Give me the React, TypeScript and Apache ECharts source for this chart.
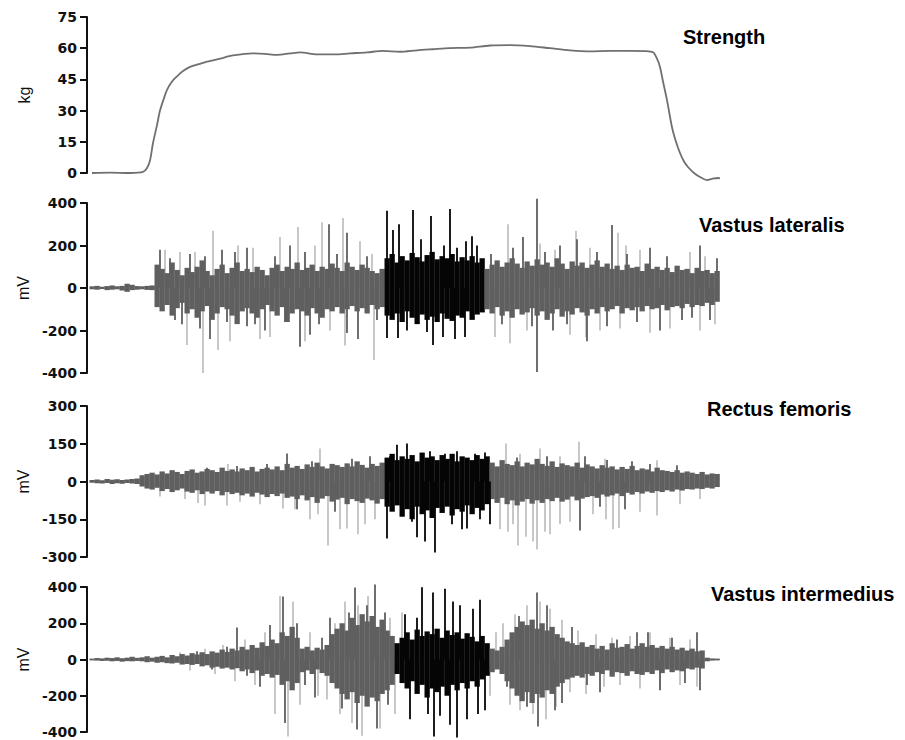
import React, { useEffect, useRef } from "react";
import * as echarts from "echarts";

// ---- time base (arbitrary units, 0..T_MAX) ----
const T_MAX = 633;
const SAMPLE_START = 5;
const SAMPLE_STEP = 5;

// ---- Strength (kg) ----
const strengthTicks = [0, 15, 30, 45, 60, 75];
const strengthT = [5,23,43,56,60,63,66,70,73,77,80,85,90,96,103,113,120,133,146,166,178,190,203,213,230,248,263,280,296,313,330,346,363,383,403,423,443,463,483,503,523,543,558,566,570,573,576,580,585,589,593,597,601,607,613,620,625,631,633];
const strengthKg = [0,0.2,0,0.5,2.4,6,14.4,23,30,36,40,44,46.5,49,51,52.5,53.5,55,56.5,57.5,57.3,56.8,57.5,58,57,57,57.5,58,58.7,58.3,59,59.5,60,60.3,61.3,61.5,61,60,59,58.5,58.7,58.7,58.6,58,55,51,44,35,22,15,9.6,5.5,2.9,0,-1.9,-3.4,-2.8,-2.4,-2.6];

// ---- Vastus lateralis (mV) ----
const vlTicks = [-400, -200, 0, 200, 400];
const vlWindow = [298, 397];
const vlHi = [
  8, 10, 6, 9, 12, 8, 10, 20, 15, 9,
  8, 10, 12, 110, 90, 70, 120, 85, 60, 95,
  75, 100, 130, 80, 60, 90, 110, 70, 95, 120,
  80, 90, 75, 100, 85, 60, 95, 110, 80, 100,
  90, 120, 85, 95, 110, 80, 100, 90, 115, 95,
  80, 120, 100, 85, 110, 95, 80, 70, 90, 140,
  160, 120, 150, 130, 165, 145, 125, 155, 170, 135,
  150, 140, 160, 125, 145, 130, 150, 120, 140, 90,
  110, 130, 100, 120, 140, 115, 95, 125, 105, 135,
  110, 120, 100, 140, 115, 90, 125, 105, 120, 95,
  110, 130, 100, 115, 90, 105, 85, 110, 95, 100,
  80, 115, 90, 100, 85, 95, 75, 105, 85, 90,
  70, 95, 80, 85, 70, 80,
];
const vlLo = [
  -6, -8, -5, -10, -8, -6, -12, -18, -10, -8,
  -6, -9, -10, -90, -110, -80, -130, -95, -70, -120,
  -100, -140, -110, -85, -150, -120, -90, -100, -130, -170,
  -110, -95, -120, -140, -100, -80, -110, -130, -90, -160,
  -120, -100, -110, -130, -95, -120, -140, -100, -110, -90,
  -120, -100, -85, -110, -95, -120, -80, -100, -90, -130,
  -150, -120, -160, -110, -140, -170, -125, -150, -135, -160,
  -120, -145, -155, -130, -140, -110, -150, -125, -115, -100,
  -120, -90, -130, -110, -140, -100, -125, -115, -95, -130,
  -110, -150, -120, -100, -135, -110, -125, -95, -115, -130,
  -100, -120, -90, -110, -100, -85, -120, -95, -105, -90,
  -110, -85, -100, -95, -80, -105, -90, -85, -95, -75,
  -90, -80, -85, -70, -80, -65,
];
const vlLightSpikes = [
  [78,180],[93,170],[100,-268],[108,170],[116,-400],[126,270],[131,-292],[143,-250],[151,200],[166,190],
  [173,-240],[183,-230],[193,240],[211,287],[218,-250],[228,200],[235,310],[243,-200],[256,330],[258,-270],
  [273,220],[285,160],[287,-339],[408,-230],[421,300],[423,-260],[440,-200],[453,210],[468,180],[483,-220],
  [489,270],[499,-230],[503,190],[513,-200],[531,260],[533,-190],[539,200],[553,180],[563,-210],[583,-190],
  [603,170],[613,-200],[618,150],[628,-170],
];
const vlDarkSpikes = [
  [73,180],[83,140],[88,-150],[95,-170],[103,160],[113,-190],[118,150],[123,-240],[135,180],[140,-160],
  [148,170],[160,190],[160,-180],[168,-170],[178,-200],[188,150],[198,-160],[203,200],[213,-277],[218,170],
  [223,-220],[232,-170],[242,300],[250,160],[260,260],[260,-212],[271,-240],[280,150],[290,-150],
  [300,363],[300,-235],[306,273],[311,-235],[312,300],[320,-200],[326,367],[334,230],[340,-207],[344,339],
  [346,-268],[356,-230],[357,200],[363,372],[368,-240],[370,190],[378,-230],[379,220],[385,243],[390,200],
  [404,160],[415,-170],[426,190],[436,240],[445,-180],[450,420],[450,-395],[458,170],[466,-200],[473,200],
  [480,-170],[490,230],[500,-250],[510,170],[520,-180],[525,296],[540,160],[550,-160],[563,190],[573,-200],
  [580,150],[595,-150],[605,-140],[613,200],[623,-150],[630,140],
];

// ---- Rectus femoris (mV) ----
const rfTicks = [-300, -150, 0, 150, 300];
const rfWindow = [298, 403];
const rfHi = [
  6, 8, 5, 10, 7, 9, 6, 8, 10, 12,
  25, 30, 35, 28, 40, 32, 45, 38, 30, 42,
  48, 35, 40, 50, 45, 38, 55, 42, 48, 40,
  52, 45, 58, 40, 50, 55, 48, 60, 45, 70,
  55, 62, 50, 68, 58, 75, 60, 52, 70, 65,
  58, 72, 60, 80, 66, 55, 70, 62, 75, 95,
  110, 85, 100, 90, 105, 80, 115, 95, 100, 85,
  105, 90, 110, 80, 100, 95, 85, 105, 90, 100,
  75, 60, 85, 70, 65, 80, 60, 75, 68, 90,
  70, 62, 80, 58, 72, 65, 60, 75, 55, 68,
  60, 52, 65, 55, 60, 48, 58, 50, 62, 45,
  52, 48, 40, 55, 45, 42, 38, 45, 35, 40,
  35, 30, 38, 28, 32, 30,
];
const rfLo = [
  -5, -7, -8, -6, -10, -7, -9, -6, -8, -10,
  -20, -28, -32, -25, -38, -30, -42, -35, -28, -40,
  -45, -35, -50, -40, -48, -38, -55, -42, -50, -45,
  -55, -48, -60, -45, -52, -62, -50, -58, -48, -65,
  -60, -70, -55, -75, -62, -85, -68, -58, -80, -72,
  -65, -90, -70, -78, -85, -68, -75, -88, -70, -100,
  -120, -95, -140, -110, -150, -100, -130, -115, -145, -105,
  -125, -100, -135, -110, -120, -95, -130, -105, -115, -90,
  -70, -85, -65, -90, -75, -95, -80, -70, -88, -75,
  -85, -70, -78, -65, -80, -72, -60, -75, -68, -62,
  -58, -65, -52, -60, -55, -48, -58, -45, -52, -42,
  -48, -40, -45, -38, -42, -35, -40, -32, -36, -30,
  -32, -28, -30, -25, -28, -22,
];
const rfLightSpikes = [
  [73,-60],[98,-70],[111,-85],[118,-95],[140,-95],[141,70],[153,-80],[173,-90],[196,-107],[208,-110],
  [223,-150],[231,-130],[233,131],[241,-254],[253,-190],[260,-187],[271,-210],[278,-170],[288,-150],
  [413,-190],[419,151],[421,-200],[426,-170],[431,-254],[433,110],[439,-220],[446,-238],[450,-270],[453,131],
  [458,-200],[463,-210],[473,-170],[473,100],[483,-160],[492,158],[506,-130],[518,90],[519,-150],[526,-190],
  [532,-185],[553,-120],[570,-135],[570,84],[593,-90],[613,-70],
];
const rfDarkSpikes = [
  [120,55],[150,62],[180,70],[200,111],[210,-110],[225,80],[248,-120],[265,90],[283,100],
  [300,-226],[303,100],[310,146],[320,151],[325,-160],[330,-222],[338,-238],[343,120],[348,-282],[358,110],
  [365,-170],[370,120],[375,-190],[380,-187],[388,110],[393,-150],[398,115],[403,-170],
  [430,95],[460,100],[493,-195],[498,100],[513,-100],[520,85],[538,-110],[545,80],[563,70],[590,65],
];

// ---- Vastus intermedius (mV) ----
const viTicks = [-400, -200, 0, 200, 400];
const viWindow = [308, 402];
const viHi = [
  5, 8, 6, 10, 8, 12, 7, 10, 15, 9,
  12, 18, 10, 15, 20, 12, 25, 18, 30, 22,
  35, 28, 40, 30, 45, 38, 55, 42, 60, 50,
  70, 55, 80, 65, 95, 75, 110, 90, 150, 130,
  180, 120, 60, 70, 50, 65, 55, 80, 140, 170,
  200, 160, 230, 190, 250, 210, 240, 180, 220, 160,
  130, 90, 120, 150, 110, 165, 130, 155, 140, 170,
  120, 160, 135, 150, 115, 145, 125, 100, 130, 90,
  60, 50, 70, 110, 150, 180, 210, 190, 220, 170,
  200, 160, 180, 140, 120, 100, 90, 80, 95, 70,
  80, 60, 75, 55, 90, 65, 70, 85, 60, 75,
  90, 70, 80, 65, 75, 60, 70, 55, 65, 50,
  60, 45, 50, 10, 6, 5,
];
const viLo = [
  -5, -6, -8, -7, -10, -8, -12, -9, -10, -8,
  -10, -15, -12, -18, -15, -20, -22, -18, -28, -25,
  -30, -25, -38, -32, -45, -40, -50, -45, -55, -48,
  -65, -55, -75, -60, -90, -80, -100, -85, -140, -120,
  -170, -130, -70, -60, -80, -55, -75, -90, -130, -160,
  -190, -220, -180, -240, -200, -260, -210, -230, -190, -170,
  -140, -80, -130, -160, -120, -190, -140, -210, -160, -180,
  -150, -200, -140, -170, -130, -160, -120, -150, -110, -90,
  -70, -55, -80, -120, -160, -200, -230, -180, -240, -190,
  -210, -170, -190, -150, -130, -110, -100, -90, -100, -80,
  -90, -70, -80, -60, -95, -70, -75, -90, -65, -80,
  -85, -70, -80, -60, -75, -55, -70, -60, -65, -50,
  -55, -45, -50, -10, -6, -5,
];
const viLightSpikes = [
  [93,40],[103,-60],[118,60],[128,-80],[136,80],[148,-120],[158,110],[168,-140],[178,150],[188,-300],
  [193,350],[201,-425],[206,320],[213,-250],[223,150],[231,-200],[240,-220],[248,200],[253,-300],[258,320],
  [265,-350],[271,300],[275,-420],[281,350],[293,-380],[303,230],[308,-300],[315,260],
  [403,-200],[409,150],[416,200],[423,-250],[428,250],[433,-280],[440,300],[446,-300],[453,320],[459,-330],
  [463,280],[469,-260],[475,220],[483,-180],[491,160],[499,-190],[509,140],[517,-150],[525,120],[533,-140],
  [543,130],[553,-160],[563,150],[573,-150],[583,120],[593,-140],[603,110],[610,-150],
];
const viDarkSpikes = [
  [110,45],[125,-55],[140,70],[150,177],[160,-90],[173,-150],[183,190],[196,348],[198,-350],[210,200],
  [218,-140],[228,-210],[235,120],[243,230],[255,-270],[262,260],[268,397],
  [270,-386],[280,300],[288,414],[290,-380],[298,260],[301,-250],
  [318,250],[323,-330],[330,230],[335,398],[341,-300],[346,370],[347,-425],[353,-310],[358,390],[363,-360],
  [366,320],[370,-430],[373,300],[380,-330],[386,280],[391,-300],[393,330],[398,-280],
  [420,-150],[432,240],[440,-260],[450,370],[451,-370],[460,300],[468,-280],[475,-240],[485,180],[500,-140],
  [513,-180],[530,110],[550,150],[561,150],[573,-170],[585,120],[598,-130],[610,150],[613,-170],
];

// ---- styles ----
const DARK = "#5f5f5f";
const LIGHT = "#bababa";
const BLACK = "#050505";
const LINE = "#707070";

const panels = [
  { top: 17, height: 156, ticks: strengthTicks, name: "kg", nameGap: 55, title: "Strength", titleLeft: 683, titleTop: 27 },
  { top: 203, height: 170, ticks: vlTicks, name: "mV", nameGap: 51, title: "Vastus lateralis", titleLeft: 699, titleTop: 215 },
  { top: 406, height: 151, ticks: rfTicks, name: "mV", nameGap: 47, title: "Rectus femoris", titleLeft: 707, titleTop: 399 },
  { top: 587, height: 145, ticks: viTicks, name: "mV", nameGap: 47, title: "Vastus intermedius", titleLeft: 711, titleTop: 584 },
];

const emg = [
  { hi: vlHi, lo: vlLo, light: vlLightSpikes, dark: vlDarkSpikes, win: vlWindow },
  { hi: rfHi, lo: rfLo, light: rfLightSpikes, dark: rfDarkSpikes, win: rfWindow },
  { hi: viHi, lo: viLo, light: viLightSpikes, dark: viDarkSpikes, win: viWindow },
];

function inWin(t: number, win: number[]) {
  return t >= win[0] && t <= win[1];
}

function bodyRender(win: number[]) {
  return (_p: any, api: any) => {
    const t = api.value(0);
    const hi = api.value(1);
    const lo = api.value(2);
    const a = api.coord([t - SAMPLE_STEP / 2, hi]);
    const b = api.coord([t + SAMPLE_STEP / 2, lo]);
    return {
      type: "rect",
      shape: { x: a[0], y: a[1], width: b[0] - a[0] + 0.3, height: b[1] - a[1] },
      style: { fill: inWin(t, win) ? BLACK : DARK },
    };
  };
}

function spikeRender(win: number[], color: string, width: number, blackInWin: boolean) {
  return (_p: any, api: any) => {
    const t = api.value(0);
    const v = api.value(1);
    const a = api.coord([t, 0]);
    const b = api.coord([t, v]);
    return {
      type: "line",
      shape: { x1: a[0], y1: a[1], x2: b[0], y2: b[1] },
      style: { stroke: blackInWin && inWin(t, win) ? BLACK : color, lineWidth: width },
    };
  };
}

export default function App() {
  const ref = useRef<HTMLDivElement>(null);

  useEffect(() => {
    if (!ref.current) return;
    const chart = echarts.init(ref.current, null, { renderer: "svg" });

    const grid = panels.map((p) => ({ left: 87, width: T_MAX, top: p.top, height: p.height }));
    const xAxis = panels.map((_p, i) => ({
      type: "value",
      gridIndex: i,
      min: 0,
      max: T_MAX,
      show: false,
    }));
    const yAxis = panels.map((p, i) => ({
      type: "value",
      gridIndex: i,
      min: p.ticks[0],
      max: p.ticks[p.ticks.length - 1],
      interval: p.ticks[1] - p.ticks[0],
      name: p.name,
      nameLocation: "middle",
      nameRotate: 90,
      nameGap: p.nameGap,
      nameTextStyle: { fontFamily: "Liberation Sans", fontSize: 16, color: "#111" },
      axisLine: { show: true, onZero: false, lineStyle: { color: "#111", width: 2 } },
      axisTick: { show: true, length: 7, lineStyle: { color: "#111", width: 2 } },
      axisLabel: {
        margin: 10,
        fontFamily: "DejaVu Sans",
        fontWeight: "bold",
        fontSize: 14,
        color: "#111",
      },
      splitLine: { show: false },
    }));

    const title = panels.map((p) => ({
      text: p.title,
      left: p.titleLeft,
      top: p.titleTop,
      padding: 0,
      textStyle: { fontFamily: "Liberation Sans", fontWeight: "bold", fontSize: 20, color: "#000" },
    }));

    const series: any[] = [
      {
        type: "line",
        xAxisIndex: 0,
        yAxisIndex: 0,
        data: strengthT.map((t, i) => [t, strengthKg[i]]),
        showSymbol: false,
        smooth: 0.3,
        clip: false,
        lineStyle: { color: LINE, width: 1.8 },
      },
    ];

    emg.forEach((e, k) => {
      const idx = k + 1;
      series.push({
        type: "custom",
        xAxisIndex: idx,
        yAxisIndex: idx,
        z: 2,
        clip: false,
        renderItem: spikeRender(e.win, LIGHT, 1.6, false),
        data: e.light,
      });
      series.push({
        type: "custom",
        xAxisIndex: idx,
        yAxisIndex: idx,
        z: 3,
        clip: false,
        renderItem: bodyRender(e.win),
        data: e.hi.map((h, i) => [SAMPLE_START + i * SAMPLE_STEP, h, e.lo[i] ?? 0]),
      });
      series.push({
        type: "custom",
        xAxisIndex: idx,
        yAxisIndex: idx,
        z: 4,
        clip: false,
        renderItem: spikeRender(e.win, DARK, 1.8, true),
        data: e.dark,
      });
    });

    chart.setOption({
      animation: false,
      backgroundColor: "#ffffff",
      title,
      grid,
      xAxis,
      yAxis,
      series,
    });

    return () => chart.dispose();
  }, []);

  return (
    <div
      ref={ref}
      style={{ position: "fixed", left: 0, top: 0, width: 905, height: 740, background: "#fff" }}
    />
  );
}
